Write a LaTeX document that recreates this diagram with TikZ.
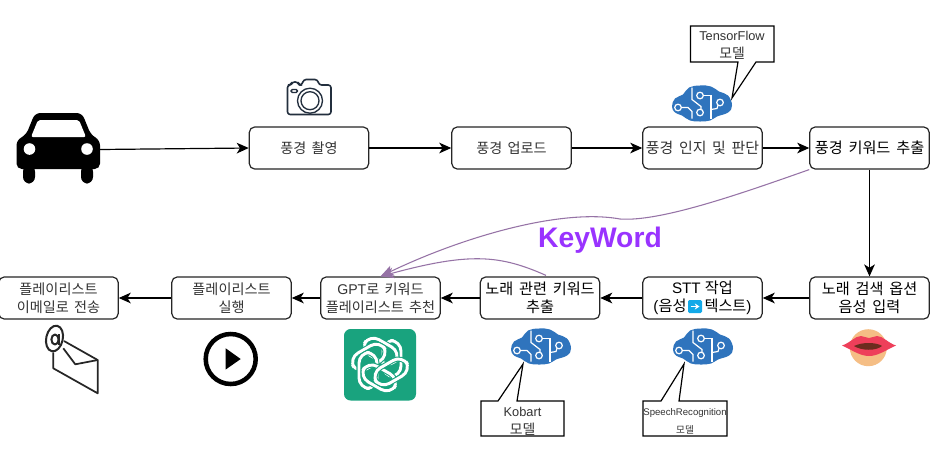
\documentclass[tikz,border=0pt]{standalone}
\usepackage{fontspec}
\setmainfont{Liberation Sans}
\newfontfamily\kr[WordSpace=1.7]{Noto Sans CJK KR}
\usetikzlibrary{arrows.meta,calc}
\definecolor{txtgray}{HTML}{333333}
\definecolor{brainblue}{HTML}{2F74BD}
\definecolor{purpleline}{HTML}{9673A6}
\definecolor{kwpurple}{HTML}{9933FF}
\definecolor{gptgreen}{HTML}{19A37E}
\definecolor{camline}{HTML}{232F3E}
\definecolor{facetone}{HTML}{F5BE85}
\definecolor{lipred}{HTML}{EE3F5A}
\definecolor{mouthdark}{HTML}{6B2C1E}
\definecolor{iconcyan}{HTML}{12A9E8}
\tikzset{
  x=0.75pt,y=-0.75pt,
  flowbox/.style={draw=black!85,line width=0.9pt,rounded corners=4pt,fill=white,minimum width=89.5pt,minimum height=31.5pt,inner sep=0pt,align=center,font=\fontsize{10.6}{13.5}\selectfont,text=txtgray},
  strongbox/.style={flowbox,font=\fontsize{11.4}{13.5}\selectfont,text=black},
  flow/.style={line width=0.9pt,-{Stealth[length=9pt,width=8pt,inset=2.5pt]}},
  kwflow/.style={draw=purpleline,line width=0.8pt,-{Stealth[length=10pt,width=8pt,inset=2.5pt,fill=purpleline]}},
  calloutshape/.style={draw=black,line width=0.9pt,fill=white,line join=miter},
  calloutlabel/.style={align=center,inner sep=0pt,text=txtgray,font=\fontsize{9.6}{13.5}\selectfont},
  brainicon/.pic={
    \fill[brainblue] plot[smooth cycle,tension=0.7] coordinates {(-30,3)(-27,-5)(-19,-9)(-13,-16)(-2,-18)(9,-17)(17,-12)(26,-8)(30,2)(26,9)(15,13)(8,17)(-2,18)(-12,17)(-20,12)(-27,9)};
    \begin{scope}[draw=white,line width=0.9pt]
      \draw (-10,-16) -- (-10,-4) -- (-1,3) -- (-1,6);
      \draw (-24,4) -- (-14,4) -- (-10,8) -- (-10,15);
      \draw (0,-8) -- (9,-8) -- (9,15);
      \draw (17,-1) -- (15,5) -- (9,6);
      \draw[fill=brainblue] (-24,4) circle (3.3);
      \draw[fill=brainblue] (-2,-8) circle (3.3);
      \draw[fill=brainblue] (-2,9) circle (3.3);
      \draw[fill=brainblue] (18,-1) circle (3.3);
    \end{scope}
  }
}
\begin{document}
\begin{tikzpicture}
\useasboundingbox (0,0) rectangle (930,461);
\fill[white] (0,0) rectangle (930,461);

% boxes
\node[flowbox] (shoot) at (309,148) {\kr 풍경 촬영};
\node[flowbox] (upload) at (511.5,148) {\kr 풍경 업로드};
\node[flowbox] (recog) at (702.5,148) {\kr\fontsize{11.2}{13.5}\selectfont 풍경 인지 및 판단};
\node[strongbox] (kwext) at (869.5,148) {\kr 풍경 키워드 추출};
\node[strongbox] (voice) at (869.5,298) {\kr 노래 검색 옵션\\\kr 음성 입력};
\node[strongbox] (stt) at (702.5,298) {STT {\kr 작업}\\({\kr 음성}\hspace{13.5pt}{\kr 텍스트})};
\node[strongbox] (songkw) at (540,298) {\kr 노래 관련 키워드\\\kr 추출};
\node[flowbox] (gpt) at (380.5,298) {GPT{\kr 로 키워드}\\\kr 플레이리스트 추천};
\node[flowbox] (play) at (231.5,298) {\kr 플레이리스트\\\kr 실행};
\node[flowbox] (mail) at (58.5,298) {\kr 플레이리스트\\\kr 이메일로 전송};

% STT inline arrow icon
\fill[iconcyan,rounded corners=1pt] (688,300) rectangle (702,313);
\draw[white,line width=1.1pt,-{Stealth[length=3.5pt,width=4.5pt]}] (690.5,306.5) -- (699.5,306.5);

% car
\fill[black,rounded corners=4pt] (16.5,169) -- (16.5,140) -- (26,135) -- (35,113) -- (82,113) -- (91,135) -- (100,140) -- (100,169) -- cycle;
\fill[black,rounded corners=5pt] (23,165) rectangle (35,183.5);
\fill[black,rounded corners=5pt] (81,165) rectangle (93,183.5);
\fill[white,rounded corners=1.5pt] (31,137) -- (38,120) -- (79,120) -- (86,137) -- cycle;
\fill[white] (29.5,149) circle (5.8);
\fill[white] (87,149) circle (5.8);
\coordinate (carfront) at (100,149.5);

% camera
\begin{scope}[draw=camline,line width=1.2pt,line join=round]
  \draw[rounded corners=2pt] (287.5,114.5) -- (287.5,85) -- (291,85) -- (292,82) -- (298,82) -- (299,85) -- (302,85) -- (303.5,79.5) -- (317.5,79.5) -- (319,85) -- (331,85) -- (331,114.5) -- cycle;
  \draw[line width=1pt] (310,100.7) circle (12.5);
  \draw[line width=1pt] (310,100.7) circle (9);
  \draw[rounded corners=1pt,line width=1pt] (291,89.5) rectangle (297.5,92.5);
\end{scope}

% brains
\pic at (702,103.5) {brainicon};
\pic at (541,346.5) {brainicon};
\pic at (703,346.5) {brainicon};

% callouts
\coordinate (tftip) at (732,98);
\coordinate (kotip) at (523,364);
\coordinate (srtip) at (684,364);
\draw[calloutshape] (690.5,26) -- (774,26) -- (774,62) -- (756,62) -- (tftip) -- (738,62) -- (690.5,62) -- cycle;
\node[calloutlabel] (tflabel) at (732,45) {TensorFlow\\\kr\fontsize{10.4}{13.5}\selectfont 모델};
\draw[calloutshape] (481,401) -- (498,401) -- (kotip) -- (517,401) -- (564,401) -- (564,436) -- (481,436) -- cycle;
\node[calloutlabel] (kolabel) at (522.5,421) {Kobart\\\kr\fontsize{10.4}{13.5}\selectfont 모델};
\draw[calloutshape] (643,401) -- (661,401) -- (srtip) -- (679,401) -- (727,401) -- (727,436) -- (643,436) -- cycle;
\node[calloutlabel,font=\fontsize{7.2}{13.5}\selectfont] (srlabel) at (685,421.5) {SpeechRecognition\\\kr 모델};

% connectors
\draw[flow] (carfront) -- (shoot.west);
\draw[flow] (shoot) -- (upload);
\draw[flow] (upload) -- (recog);
\draw[flow] (recog) -- (kwext);
\draw[flow] (kwext) -- (voice);
\draw[flow] (voice) -- (stt);
\draw[flow] (stt) -- (songkw);
\draw[flow] (songkw) -- (gpt);
\draw[flow] (gpt) -- (play);
\draw[flow] (play) -- (mail);
\draw[kwflow] (kwext.south west) .. controls (740,194) and (660,222) .. (620,219) .. controls (560,208) and (460,238) .. (gpt.north);
\draw[kwflow] (songkw.north) ++(6,-1) .. controls (500,255) and (470,252) .. (gpt.north);

\node[text=kwpurple,inner sep=0pt,font=\fontsize{21.2}{24}\selectfont\bfseries] (kwlabel) at (600,240) {KeyWord};

% e-mail icon
\begin{scope}[draw=black!85,line width=1.3pt,line join=round]
  \draw (53.3,352.3) -- (53.3,368.3) -- (97.7,393.3) -- (97.7,360) -- (64,341);
  \draw (63.3,348.3) -- (75.3,364.3) -- (97.7,360);
  \draw[rotate around={-12:(54.5,338.5)},line width=1.5pt] (54.5,338.5) ellipse (8.3 and 13);
  \draw[line width=1.5pt] (55,339.5) ellipse (3.6 and 5);
  \draw[line width=1.5pt] (58.6,334) -- (58.6,345);
\end{scope}

% play icon
\draw[black,line width=3.4pt] (230.7,359) circle (25);
\fill[black] (225.7,348.3) -- (240.7,359) -- (225.7,369.5) -- cycle;

% ChatGPT logo
\fill[gptgreen,rounded corners=5pt] (344,329) rectangle (416,400.5);
\foreach \a in {0,60,120,180,240,300}{
  \begin{scope}[shift={(380,364.5)},rotate=\a]
    \draw[gptgreen,line width=3.8pt,rounded corners=8pt] (3,-24) rectangle (21,12);
    \draw[white,line width=2.2pt,rounded corners=8pt] (3,-24) rectangle (21,12);
  \end{scope}
}

% lips
\fill[facetone] (868.3,347.7) circle (18.5);
\fill[lipred] (842,345.5) .. controls (850,343) and (855,336) .. (861,336) .. controls (864,336) and (866,338) .. (869,338) .. controls (872,338) and (874,336) .. (877,336) .. controls (883,336) and (888,343) .. (896,345.5) .. controls (886,350) and (878,356) .. (869,356) .. controls (860,356) and (852,350) .. (842,345.5) -- cycle;
\fill[mouthdark] (854,346) .. controls (862,342) and (876,342) .. (882,346) .. controls (876,351) and (862,351) .. (854,346) -- cycle;
\end{tikzpicture}
\end{document}
